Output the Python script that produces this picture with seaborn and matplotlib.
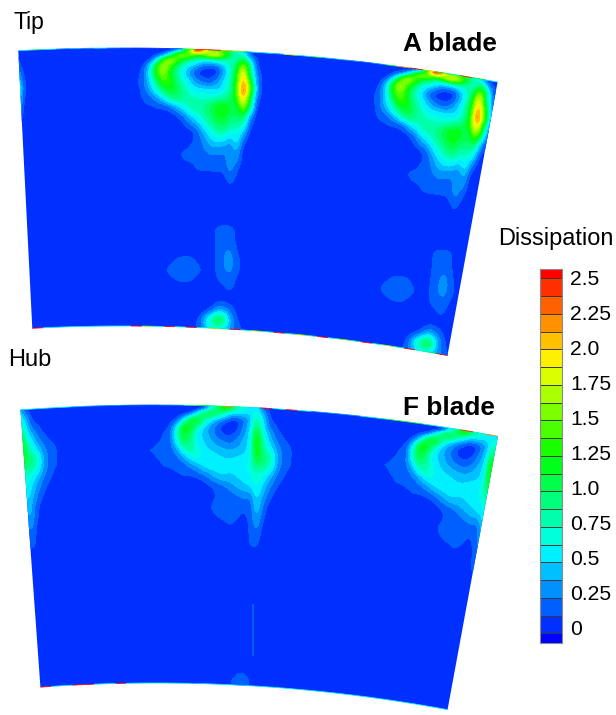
import numpy as np
import matplotlib
matplotlib.use("Agg")
import matplotlib.pyplot as plt
from matplotlib.colors import ListedColormap, BoundaryNorm
from matplotlib.collections import LineCollection
from matplotlib.patches import Polygon
import seaborn as sns

sns.set_theme(style="white")
plt.rcParams["font.family"] = ["Liberation Sans", "DejaVu Sans"]

# ---- legend ----
tick_labels = ["2.5", "2.25", "2.0", "1.75", "1.5", "1.25", "1.0", "0.75", "0.5", "0.25", "0"]
levels = [-1.0] + [i * 0.125 for i in range(21)] + [3.0]

# ---- A blade, one passage, upper part ----
a_up_x = [130 + i * 20 / 3 for i in range(22)]
a_up_y = [40 + z / 3 for z in (0, 30, 45, 60, 80, 100, 125, 150, 175, 200, 230, 270, 300, 330, 360, 390, 420, 445, 470)]
a_up = [
 [.03,.03,.03,.03,.03,.03,.03,.2,.6,1.6,2.6,2.2,1.5,1.4,1.2,1.0,.6,.3,.1,.03,.03,.03],
 [.03,.03,.03,.03,.03,.03,.03,.2,.6,1.6,2.6,2.2,1.5,1.4,1.2,1.0,.6,.3,.1,.03,.03,.03],
 [.03,.03,.03,.03,.13,.25,.7,1.4,1.7,1.5,1.2,1.3,1.8,1.9,1.5,1.0,.8,.7,.2,.05,.03,.03],
 [.03,.03,.03,.13,.5,1.3,1.8,1.4,1.0,.85,.7,.6,.6,.7,.8,.8,.8,1.1,.5,.12,.03,.03],
 [.03,.03,.13,.5,1.3,1.8,1.3,.95,.65,.45,.3,.15,.12,.15,.4,.7,1.0,1.7,.9,.15,.03,.03],
 [.03,.06,.2,.55,1.3,1.6,1.2,.85,.55,.3,.1,.05,.05,.07,.33,.65,1.2,2.0,.9,.25,.05,.03],
 [.03,.1,.2,.5,.9,1.4,1.3,.95,.7,.5,.3,.2,.15,.3,.5,.75,1.3,2.2,1.3,.3,.06,.03],
 [.03,.06,.18,.35,.65,.95,1.2,1.05,.85,.65,.57,.55,.52,.5,.55,.8,1.3,2.4,1.5,.35,.05,.03],
 [.03,.05,.13,.2,.3,.5,.8,.95,.85,.8,.75,.72,.72,.75,.85,.95,1.3,2.1,1.1,.2,.04,.03],
 [.03,.03,.1,.1,.14,.14,.2,.4,.6,.8,.87,.9,1.0,1.2,1.25,1.15,1.0,1.7,.9,.1,.03,.03],
 [.03,.03,.03,.03,.03,.03,.03,.07,.2,.45,.6,.8,.95,1.15,1.2,1.0,1.0,1.0,.3,.05,.03,.03],
 [.03,.03,.03,.03,.03,.03,.03,.03,.03,.07,.17,.42,.65,.8,.9,.7,.7,.5,.08,.03,.03,.03],
 [.03,.03,.03,.03,.03,.03,.03,.03,.03,.1,.14,.28,.45,.55,.52,.4,.6,.2,.03,.03,.03,.03],
 [.03,.03,.03,.03,.03,.03,.07,.12,.13,.14,.18,.22,.3,.3,.27,.25,.4,.05,.03,.03,.03,.03],
 [.03,.03,.03,.03,.03,.03,.03,.1,.13,.14,.14,.16,.2,.2,.2,.33,.3,.03,.03,.03,.03,.03],
 [.03,.03,.03,.03,.03,.03,.03,.03,.04,.08,.13,.14,.14,.14,.14,.3,.13,.03,.03,.03,.03,.03],
 [.03,.03,.03,.03,.03,.03,.03,.03,.03,.03,.03,.03,.03,.03,.07,.15,.1,.03,.03,.03,.03,.03],
 [.03,.03,.03,.03,.03,.03,.03,.03,.03,.03,.03,.03,.03,.03,.03,.13,.03,.03,.03,.03,.03,.03],
 [.03,.03,.03,.03,.03,.03,.03,.03,.03,.03,.03,.03,.03,.03,.03,.03,.03,.03,.03,.03,.03,.03],
]

# ---- A blade, lower part ----
a_lo_x = list(range(160, 251, 10))
a_lo_y = list(range(220, 341, 10))
a_lo = [
 [.03,.03,.03,.03,.03,.03,.03,.03,.03,.03],
 [.03,.03,.03,.03,.03,.05,.2,.2,.03,.03],
 [.03,.03,.03,.03,.03,.03,.2,.2,.03,.03],
 [.03,.03,.03,.03,.03,.03,.2,.28,.05,.03],
 [.03,.08,.17,.18,.07,.03,.2,.32,.1,.03],
 [.03,.18,.2,.2,.15,.03,.2,.3,.1,.03],
 [.03,.08,.15,.15,.05,.03,.15,.2,.05,.03],
 [.03,.03,.03,.03,.03,.03,.05,.15,.03,.03],
 [.03,.03,.03,.03,.03,.03,.08,.05,.03,.03],
 [.03,.03,.03,.03,.03,.1,.4,.2,.03,.03],
 [.03,.03,.03,.03,.15,.8,1.3,.35,.05,.03],
 [.03,.03,.03,.03,.2,.5,.5,.3,.15,.03],
 [.03,.03,.03,.03,.2,.5,.5,.3,.15,.03],
]

# ---- F blade, one passage, upper part ----
f_up_x = [150 + i * 20 / 3 for i in range(25)]
f_up_y = [400 + z / 3 for z in (0, 25, 40, 60, 80, 100, 125, 150, 175, 200, 230, 260, 290, 320, 350, 380, 410, 440, 465)]
f_up = [
 [.03,.03,.03,.03,.03,.03,.03,.03,.1,.5,.9,1.3,1.1,.8,.7,.6,.6,.2,.05,.03,.03,.03,.03,.03,.03],
 [.03,.03,.03,.03,.03,.03,.03,.03,.1,.5,.9,1.3,1.1,.8,.7,.6,.6,.2,.05,.03,.03,.03,.03,.03,.03],
 [.03,.03,.03,.03,.03,.04,.13,.5,1.0,1.2,1.0,.75,.55,.5,.5,.5,.7,.35,.1,.03,.03,.03,.03,.03,.03],
 [.03,.03,.03,.05,.15,.5,1.1,1.3,.85,.55,.35,.25,.1,.1,.2,.4,.85,.5,.14,.06,.03,.03,.03,.03,.03],
 [.03,.03,.07,.14,.5,1.2,1.2,.8,.5,.33,.2,.05,.03,.05,.25,.45,1.0,.55,.2,.13,.05,.03,.03,.03,.03],
 [.03,.05,.13,.18,.7,1.2,1.0,.6,.45,.33,.2,.1,.08,.15,.3,.5,1.25,.6,.35,.15,.1,.03,.03,.03,.03],
 [.05,.12,.14,.18,.55,1.0,.9,.6,.5,.4,.3,.25,.2,.28,.4,.55,1.35,.75,.45,.25,.14,.1,.04,.03,.03],
 [.14,.14,.15,.2,.3,.65,.85,.7,.55,.5,.45,.4,.38,.4,.45,.55,1.3,.85,.6,.35,.2,.14,.06,.03,.03],
 [.07,.13,.14,.16,.2,.3,.5,.65,.62,.58,.55,.5,.5,.52,.55,.6,1.2,.95,.85,.4,.2,.14,.05,.03,.03],
 [.03,.08,.13,.14,.15,.17,.25,.35,.5,.57,.6,.58,.55,.58,.6,.65,.9,.85,.7,.35,.18,.13,.04,.03,.03],
 [.03,.03,.03,.05,.1,.12,.1,.12,.17,.28,.42,.48,.45,.5,.55,.6,.7,.6,.4,.22,.13,.05,.03,.03,.03],
 [.03,.03,.03,.03,.03,.03,.03,.03,.05,.1,.14,.2,.3,.38,.45,.5,.65,.45,.25,.13,.05,.03,.03,.03,.03],
 [.03,.03,.03,.03,.03,.03,.03,.03,.03,.1,.13,.14,.16,.22,.27,.25,.55,.33,.15,.05,.03,.03,.03,.03,.03],
 [.03,.03,.03,.03,.03,.03,.03,.03,.05,.13,.14,.14,.15,.15,.15,.15,.5,.2,.05,.03,.03,.03,.03,.03,.03],
 [.03,.03,.03,.03,.03,.03,.03,.03,.03,.1,.13,.14,.14,.14,.1,.15,.4,.14,.03,.03,.03,.03,.03,.03,.03],
 [.03,.03,.03,.03,.03,.03,.03,.03,.03,.03,.06,.1,.13,.1,.05,.14,.3,.06,.03,.03,.03,.03,.03,.03,.03],
 [.03,.03,.03,.03,.03,.03,.03,.03,.03,.03,.03,.03,.03,.03,.03,.14,.2,.03,.03,.03,.03,.03,.03,.03,.03],
 [.03,.03,.03,.03,.03,.03,.03,.03,.03,.03,.03,.03,.03,.03,.03,.13,.13,.03,.03,.03,.03,.03,.03,.03,.03],
 [.03,.03,.03,.03,.03,.03,.03,.03,.03,.03,.03,.03,.03,.03,.03,.03,.03,.03,.03,.03,.03,.03,.03,.03,.03],
]

# ---- F blade, lower part ----
f_lo_x = [225, 235, 240, 247, 251, 253, 255, 259]
f_lo_y = [590, 605, 625, 655, 668, 675, 681, 690, 700]
f_lo = [
 [.03,.03,.03,.03,.03,.03,.03,.03],
 [.03,.03,.03,.03,.03,.17,.03,.03],
 [.03,.03,.03,.03,.03,.19,.03,.03],
 [.03,.03,.03,.03,.03,.17,.03,.03],
 [.03,.03,.03,.03,.03,.03,.03,.03],
 [.03,.1,.18,.1,.03,.03,.03,.03],
 [.03,.18,.25,.18,.03,.03,.03,.03],
 [.03,.18,.25,.18,.03,.03,.03,.03],
 [.03,.18,.25,.18,.03,.03,.03,.03],
]

# ---- thin speckled values along the tip and hub edges ----
a_tip_rim = [.5,.9,.5,.3,.4,.3,.5,.3,.2,.1,.1,.1,.2,1.2,2.4,2.6,2.0,1.5,.7,.6,.4,1.8,.6,1.0,.4,.4,.3,.2,.3,1.0,2.2,2.6,2.0,1.2,.8,2.4,1.2,.6]
a_hub_rim = [2.5,.6,.6,.5,.6,.6,.6,.5,.5,2.5,1.5,.6,2.5,.7,2.5,.7,1.5,.8,2.5,.8,1.5,.8,2.5,.8,1.5,.8,2.5,.7,1.5,.8,2.5,.8,1.5,.8,2.5,.7,1.0,2.5]
f_tip_rim = [.5,.5,.5,.5,.4,.3,.3,.3,.2,.2,.2,.3,.3,.9,1.2,.9,2.2,.7,.5,2.5,.5,2.4,.7,.3,.3,.3,.3,.5,.8,1.0,1.2,1.2,.8,.6,.7,2.4,.7,2.2]
f_hub_rim = [2.5,.6,.6,2.5,2.5,.5,.5,2.5,.5,.5,.6,.6,.5,.5,.4,.5,.5,.5,.4,.5,.5,.5,.5,.5,.5,.5,.5,.5,.5,.5,.5,.5,.5,.5,.5,.5,.5,.5]

palette = sns.blend_palette(["#0000ff", "#00ffff", "#00ff00", "#ffff00", "#ff0000"], n_colors=22)
cmap = ListedColormap(palette)
norm = BoundaryNorm(levels, cmap.N)


def smooth(xs, ys, vals, factor=4, passes=2):
    xs, ys, vals = np.asarray(xs, float), np.asarray(ys, float), np.asarray(vals, float)
    xf = np.interp(np.linspace(0, len(xs) - 1, (len(xs) - 1) * factor + 1), np.arange(len(xs)), xs)
    yf = np.interp(np.linspace(0, len(ys) - 1, (len(ys) - 1) * factor + 1), np.arange(len(ys)), ys)
    v = np.array([np.interp(xf, xs, r) for r in vals])
    v = np.array([np.interp(yf, ys, c) for c in v.T]).T
    k = np.ones(3) / 3
    for _ in range(passes):
        v = np.apply_along_axis(lambda a: np.convolve(np.pad(a, 1, mode="edge"), k, "valid"), 0, v)
        v = np.apply_along_axis(lambda a: np.convolve(np.pad(a, 1, mode="edge"), k, "valid"), 1, v)
    return xf, yf, v


def sector_point(c, r, th):
    return c[0] + r * np.sin(th), c[1] - r * np.cos(th)


def draw_panel(ax, c, r_tip, r_hub, th0, th1, pitch, patches, tip_rim, hub_rim):
    th = np.linspace(th0, th1, 200)
    tx, ty = sector_point(c, r_tip, th)
    hx, hy = sector_point(c, r_hub, th[::-1])
    poly = Polygon(np.c_[np.r_[tx, hx], np.r_[ty, hy]], closed=True,
                   facecolor=palette[1], edgecolor="none", zorder=1)
    ax.add_patch(poly)
    for xs, ys, vals, cop in patches:
        xf, yf, v = smooth(xs, ys, vals)
        X, Y = np.meshgrid(xf, yf)
        for n in cop:
            phi = n * pitch
            dx, dy = X - c[0], Y - c[1]
            RX = c[0] + dx * np.cos(phi) - dy * np.sin(phi)
            RY = c[1] + dx * np.sin(phi) + dy * np.cos(phi)
            cs = ax.contourf(RX, RY, v, levels=levels[2:], cmap=ListedColormap(palette[2:]),
                             norm=BoundaryNorm(levels[2:], 20), extend="neither", zorder=2)
            cs.set_clip_path(poly)
    for rim, r in ((tip_rim, r_tip), (hub_rim, r_hub)):
        e = np.linspace(th0, th1, len(rim) + 1)
        px, py = sector_point(c, r, e)
        pts = np.c_[px, py]
        seg = np.stack([pts[:-1], pts[1:]], axis=1)
        lc = LineCollection(seg, array=np.asarray(rim), cmap=cmap, norm=norm, linewidths=0.6, zorder=3)
        ax.add_collection(lc)


fig = plt.figure(figsize=(6.16, 7.15), dpi=100)
ax = fig.add_axes([0, 0, 1, 1])
ax.set_xlim(0, 616)
ax.set_ylim(715, 0)
ax.axis("off")

draw_panel(ax, (123, 2125), 2077, 1799, np.radians(-2.89), np.radians(10.39), np.radians(6.63),
           [(a_up_x, a_up_y, a_up, (-1, 0, 1)), (a_lo_x, a_lo_y, a_lo, (0, 1))],
           a_tip_rim, a_hub_rim)
draw_panel(ax, (155.8, 2293), 1888, 1610, np.radians(-4.11), np.radians(10.44), np.radians(7.3),
           [(f_up_x, f_up_y, f_up, (-1, 0, 1)), (f_lo_x, f_lo_y, f_lo, (0,))],
           f_tip_rim, f_hub_rim)

ax.text(14, 23, "Tip", fontsize=16.6, ha="left", va="center", color="black")
ax.text(8, 360, "Hub", fontsize=17, ha="left", va="center", color="black")
ax.text(497, 44, "A blade", fontsize=18.9, fontweight="bold", ha="right", va="center", color="black")
ax.text(495, 408, "F blade", fontsize=18.9, fontweight="bold", ha="right", va="center", color="black")
ax.text(498, 239, "Dissipation", fontsize=16.9, ha="left", va="center", color="black")

# legend strip
cax = fig.add_axes([540 / 616, 1 - 642.7 / 715, 21.7 / 616, 373.7 / 715])
mids = [2.75] + [levels[i] + 0.0625 for i in range(20, 0, -1)] + [-0.5]
sns.heatmap(np.array(mids)[:, None], ax=cax, cmap=cmap, norm=norm, cbar=False,
            linewidths=0.7, linecolor="#3a3a3a", xticklabels=False)
cax.set_ylim(21.52, 0.48)
cax.yaxis.tick_right()
cax.set_yticks(np.linspace(0.947, 20.65, len(tick_labels)))
cax.set_yticklabels(tick_labels, rotation=0, fontsize=15.2, color="black", ha="left")
cax.tick_params(axis="y", length=0, pad=6, right=False, left=False)
for s in cax.spines.values():
    s.set_visible(True)
    s.set_color("#8a8a8a")
    s.set_linewidth(0.8)

fig.savefig("out.png", dpi=100)
